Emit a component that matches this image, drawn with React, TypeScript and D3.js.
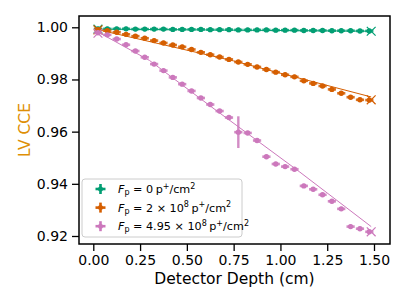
import React, { useRef, useEffect } from "react";
import * as d3 from "d3";

const WIDTH = 407;
const HEIGHT = 305;
const PLOT = { left: 79, right: 390, top: 16, bottom: 244 };

const GREEN = "#029e73";
const ORANGE = "#d55e00";
const PINK = "#cc78bc";
const LABEL_ORANGE = "#de8f05";

const depth = [
  0.025, 0.075, 0.125, 0.175, 0.225, 0.275, 0.325, 0.375, 0.425, 0.475,
  0.525, 0.575, 0.625, 0.675, 0.725, 0.775, 0.825, 0.875, 0.925, 0.975,
  1.025, 1.075, 1.125, 1.175, 1.225, 1.275, 1.325, 1.375, 1.425, 1.475,
];

const greenCCE = [
  0.9994, 0.9994, 0.9994, 0.9994, 0.9993, 0.9993, 0.9993, 0.9993, 0.9992, 0.9992,
  0.9992, 0.9992, 0.9991, 0.9991, 0.9991, 0.999, 0.999, 0.999, 0.999, 0.9989,
  0.9989, 0.9989, 0.9988, 0.9988, 0.9988, 0.9987, 0.9987, 0.9987, 0.9986, 0.9986,
];

const orangeCCE = [
  0.9991, 0.9987, 0.9981, 0.9973, 0.9966, 0.9958, 0.9949, 0.994, 0.9932, 0.9925,
  0.9915, 0.9904, 0.9895, 0.9886, 0.9877, 0.9867, 0.9858, 0.9848, 0.9838, 0.9828,
  0.9818, 0.981, 0.9795, 0.9785, 0.9775, 0.9762, 0.9747, 0.9732, 0.9722, 0.9721,
];

const pinkCCE = [
  0.9979, 0.9971, 0.9955, 0.9933, 0.9909, 0.9885, 0.9859, 0.9834, 0.9808, 0.9782,
  0.9756, 0.9729, 0.9704, 0.9679, 0.9654, 0.9598, 0.9595, 0.9566, 0.9504, 0.9476,
  0.9466, 0.9456, 0.9392, 0.9379, 0.9358, 0.9333, 0.9304, 0.9236, 0.9228, 0.9216,
];

const pinkErr = [
  0.0004, 0.0004, 0.0004, 0.0004, 0.0004, 0.0004, 0.0004, 0.0004, 0.0004, 0.0004,
  0.0004, 0.0004, 0.0004, 0.0004, 0.0004, 0.0057, 0.0004, 0.0004, 0.0004, 0.0004,
  0.0004, 0.0004, 0.0004, 0.0004, 0.0004, 0.0004, 0.0004, 0.0004, 0.0004, 0.0004,
];

const X_ERR = 0.022;
const Y_ERR = 0.0004;

// thin fit lines
const greenFitX = [0.025, 1.485];
const greenFitY = [0.9993, 0.9985];
const orangeFitX = [0.025, 0.75, 1.08, 1.485];
const orangeFitY = [0.9991, 0.9871, 0.9809, 0.9733];
const pinkFitX = [0.025, 0.3, 0.65, 1.1, 1.485];
const pinkFitY = [0.9982, 0.9873, 0.9685, 0.9447, 0.9236];

// end markers (x)
const endDepth = [0.025, 1.485];
const greenEnds = [0.9993, 0.9985];
const orangeEnds = [0.999, 0.9722];
const pinkEnds = [0.9977, 0.9216];

const xTicks = [0, 0.25, 0.5, 0.75, 1.0, 1.25, 1.5];
const yTicks = [0.92, 0.94, 0.96, 0.98, 1.0];

const legendItems = [
  { color: GREEN, base: "0", exp: "" },
  { color: ORANGE, base: "2 \u00d7 10", exp: "8" },
  { color: PINK, base: "4.95 \u00d7 10", exp: "8" },
];

export default function App() {
  const svgRef = useRef<SVGSVGElement | null>(null);

  useEffect(() => {
    const svg = d3.select(svgRef.current);
    svg.selectAll("*").remove();
    const font = "DejaVu Sans, sans-serif";

    const x = d3.scaleLinear().domain([-0.0764, 1.5855]).range([PLOT.left, PLOT.right]);
    const y = d3.scaleLinear().domain([0.91693, 1.00433]).range([PLOT.bottom, PLOT.top]);

    const line = d3
      .line<[number, number]>()
      .x((d) => x(d[0]))
      .y((d) => y(d[1]));

    const series = [
      { color: GREEN, vals: greenCCE, err: greenCCE.map(() => Y_ERR), fx: greenFitX, fy: greenFitY, ends: greenEnds },
      { color: ORANGE, vals: orangeCCE, err: orangeCCE.map(() => Y_ERR), fx: orangeFitX, fy: orangeFitY, ends: orangeEnds },
      { color: PINK, vals: pinkCCE, err: pinkErr, fx: pinkFitX, fy: pinkFitY, ends: pinkEnds },
    ];

    const plot = svg.append("g");

    series.forEach((s) => {
      const g = plot.append("g");
      // fit line
      g.append("path")
        .datum(s.fx.map((v, i) => [v, s.fy[i]] as [number, number]))
        .attr("fill", "none")
        .attr("stroke", s.color)
        .attr("stroke-width", 1)
        .attr("d", line);

      // error bars
      const pts = depth.map((d, i) => ({ d, v: s.vals[i], e: s.err[i] }));
      g.selectAll(".xe")
        .data(pts)
        .enter()
        .append("line")
        .attr("x1", (p) => x(p.d - X_ERR))
        .attr("x2", (p) => x(p.d + X_ERR))
        .attr("y1", (p) => y(p.v))
        .attr("y2", (p) => y(p.v))
        .attr("stroke", s.color)
        .attr("stroke-width", 2.6)
        .attr("opacity", 0.85);
      g.selectAll(".ye")
        .data(pts)
        .enter()
        .append("line")
        .attr("x1", (p) => x(p.d))
        .attr("x2", (p) => x(p.d))
        .attr("y1", (p) => y(p.v - p.e) + 1)
        .attr("y2", (p) => y(p.v + p.e) - 1)
        .attr("stroke", s.color)
        .attr("stroke-width", 2.4)
        .attr("opacity", 0.85);
      g.selectAll("circle")
        .data(pts)
        .enter()
        .append("circle")
        .attr("cx", (p) => x(p.d))
        .attr("cy", (p) => y(p.v))
        .attr("r", 2.7)
        .attr("fill", s.color);

      // x markers at the ends
      endDepth.forEach((d, i) => {
        const cx = x(d);
        const cy = y(s.ends[i]);
        const r = 4.4;
        g.append("path")
          .attr("d", `M${cx - r},${cy - r}L${cx + r},${cy + r}M${cx - r},${cy + r}L${cx + r},${cy - r}`)
          .attr("stroke", s.color)
          .attr("stroke-width", 1.2)
          .attr("fill", "none");
      });
    });

    // frame
    svg.append("rect")
      .attr("x", PLOT.left)
      .attr("y", PLOT.top)
      .attr("width", PLOT.right - PLOT.left)
      .attr("height", PLOT.bottom - PLOT.top)
      .attr("fill", "none")
      .attr("stroke", "#000")
      .attr("stroke-width", 1.5);

    // axes
    const xAxis = svg
      .append("g")
      .attr("transform", `translate(0,${PLOT.bottom})`)
      .call(d3.axisBottom(x).tickValues(xTicks).tickFormat(d3.format(".2f")).tickSize(7).tickPadding(4));
    const yAxis = svg
      .append("g")
      .attr("transform", `translate(${PLOT.left},0)`)
      .call(d3.axisLeft(y).tickValues(yTicks).tickFormat(d3.format(".2f")).tickSize(7).tickPadding(4));
    [xAxis, yAxis].forEach((a) => {
      a.select(".domain").remove();
      a.selectAll("line").attr("stroke", "#000").attr("stroke-width", 1.3);
      a.selectAll("text").attr("font-family", font).attr("font-size", 14).attr("fill", "#000");
    });

    svg.append("text")
      .attr("x", (PLOT.left + PLOT.right) / 2)
      .attr("y", 284)
      .attr("text-anchor", "middle")
      .attr("font-family", font)
      .attr("font-size", 15.5)
      .text("Detector Depth (cm)");

    svg.append("text")
      .attr("transform", `translate(30,${(PLOT.top + PLOT.bottom) / 2}) rotate(-90)`)
      .attr("text-anchor", "middle")
      .attr("font-family", font)
      .attr("font-size", 15.5)
      .attr("fill", LABEL_ORANGE)
      .text("LV CCE");

    // legend
    const lg = svg.append("g");
    lg.append("rect")
      .attr("x", 82)
      .attr("y", 179)
      .attr("width", 160)
      .attr("height", 58)
      .attr("rx", 3)
      .attr("fill", "#fff")
      .attr("fill-opacity", 0.8)
      .attr("stroke", "#cccccc")
      .attr("stroke-width", 1);

    legendItems.forEach((it, i) => {
      const cy = 189 + i * 18.6;
      const cx = 100.5;
      lg.append("line")
        .attr("x1", cx - 5).attr("x2", cx + 5).attr("y1", cy).attr("y2", cy)
        .attr("stroke", it.color).attr("stroke-width", 2.6);
      lg.append("line")
        .attr("x1", cx).attr("x2", cx).attr("y1", cy - 5).attr("y2", cy + 5)
        .attr("stroke", it.color).attr("stroke-width", 2.6);
      lg.append("circle").attr("cx", cx).attr("cy", cy).attr("r", 2.5).attr("fill", it.color);

      const t = lg.append("text")
        .attr("x", 118)
        .attr("y", cy + 4)
        .attr("font-family", font)
        .attr("font-size", 11.2)
        .attr("fill", "#000");
      t.append("tspan").attr("font-style", "italic").text("F");
      t.append("tspan").attr("font-size", 8).attr("dy", 2).text("p");
      t.append("tspan").attr("dy", -2).text(` = ${it.base}`);
      if (it.exp) t.append("tspan").attr("font-size", 8).attr("dy", -4.5).text(it.exp);
      t.append("tspan").attr("dy", it.exp ? 4.5 : 0).attr("dx", 2.5).text("p");
      t.append("tspan").attr("font-size", 8).attr("dy", -4.5).text("+");
      t.append("tspan").attr("dy", 4.5).text("/cm");
      t.append("tspan").attr("font-size", 8).attr("dy", -4.5).text("2");
    });
  }, []);

  return (
    <svg
      ref={svgRef}
      width={WIDTH}
      height={HEIGHT}
      style={{ position: "absolute", left: 0, top: 0, background: "#fff" }}
    />
  );
}
